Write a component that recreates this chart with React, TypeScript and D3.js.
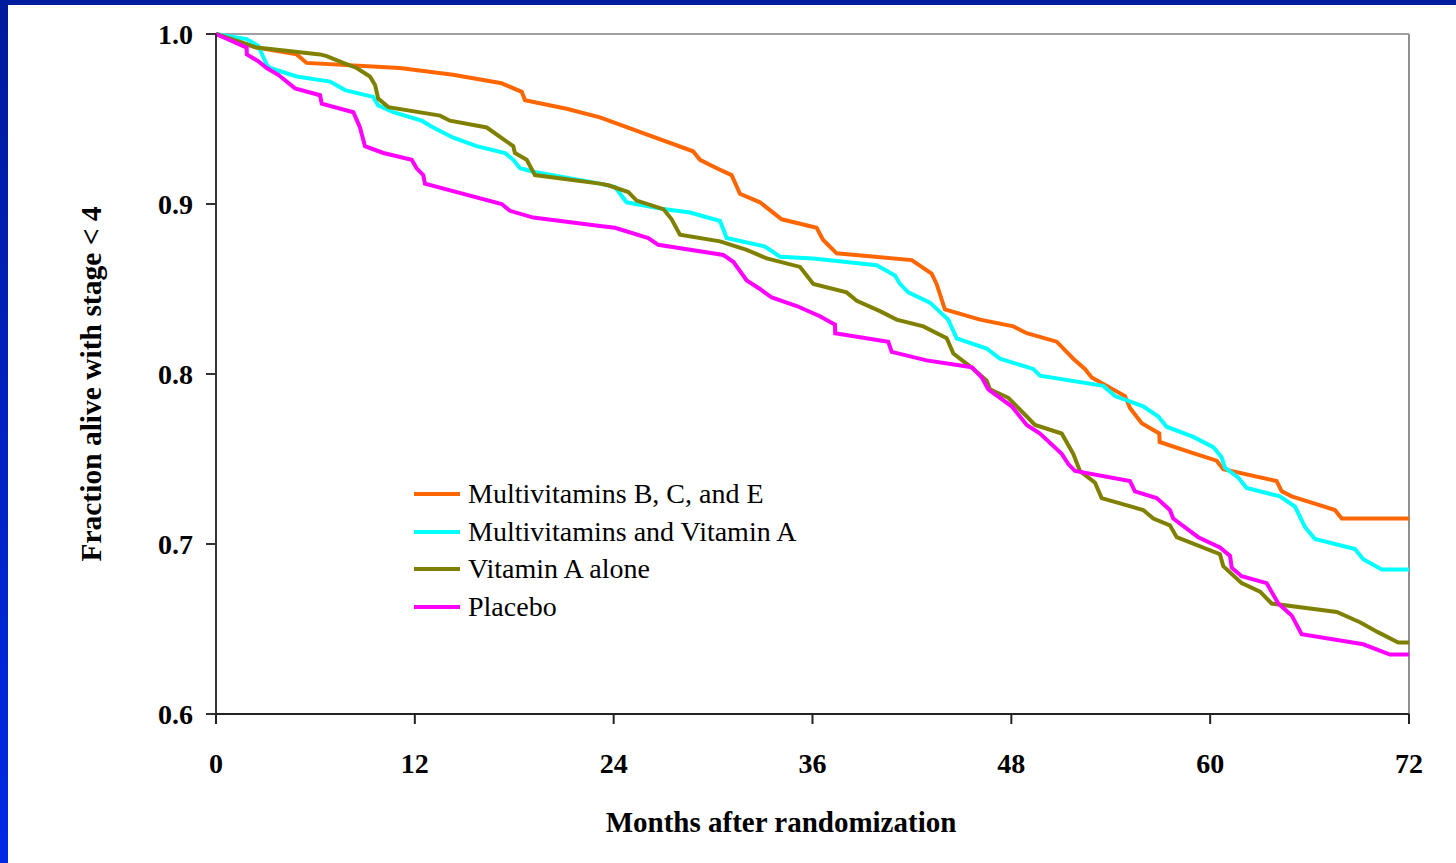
import React from "react";
import * as d3 from "d3";

// Kaplan–Meier style curves: months after randomization vs fraction alive with stage < 4
const orangeMonths = [0, 2.46, 4.87, 5.47, 11.1, 14.3, 17.24, 18.45, 18.65, 21.16, 23.17, 28.79, 29.21, 30.22, 31.12, 31.62, 32.83, 34.14, 36.25, 36.63, 37.46, 41.99, 43.19, 43.49, 43.99, 46.11, 48.12, 48.93, 50.74, 51.74, 52.44, 52.85, 54.86, 55.16, 55.87, 56.93, 56.95, 58.78, 60.39, 60.79, 64.01, 64.32, 64.92, 67.53, 67.94, 72];
const orangeValues = [1.0, 0.992, 0.988, 0.983, 0.98, 0.976, 0.971, 0.966, 0.961, 0.956, 0.951, 0.931, 0.926, 0.921, 0.917, 0.906, 0.901, 0.891, 0.886, 0.879, 0.871, 0.867, 0.859, 0.853, 0.838, 0.832, 0.828, 0.824, 0.819, 0.809, 0.803, 0.798, 0.787, 0.78, 0.771, 0.765, 0.76, 0.754, 0.749, 0.744, 0.737, 0.731, 0.728, 0.72, 0.715, 0.715];

const cyanMonths = [0, 1.85, 2.55, 3.06, 3.26, 4.87, 6.88, 7.79, 9.49, 9.79, 10.7, 12.41, 13.11, 14.32, 15.73, 17.44, 17.94, 18.35, 19.15, 23.17, 24.08, 24.78, 27.0, 28.61, 30.42, 30.82, 33.13, 34.04, 36.05, 39.87, 40.98, 41.28, 41.78, 43.09, 44.19, 44.7, 46.51, 47.31, 49.32, 49.73, 53.55, 54.26, 55.96, 56.87, 57.37, 58.98, 60.19, 60.69, 60.89, 61.7, 62.2, 64.21, 65.12, 65.72, 66.32, 68.74, 69.24, 70.35, 72];
const cyanValues = [1.0, 0.997, 0.993, 0.982, 0.98, 0.975, 0.972, 0.967, 0.963, 0.958, 0.954, 0.949, 0.945, 0.939, 0.934, 0.93, 0.926, 0.921, 0.919, 0.912, 0.91, 0.901, 0.897, 0.895, 0.89, 0.88, 0.875, 0.869, 0.868, 0.864, 0.858, 0.853, 0.848, 0.842, 0.832, 0.821, 0.815, 0.809, 0.803, 0.799, 0.793, 0.787, 0.781, 0.775, 0.769, 0.763, 0.757, 0.751, 0.745, 0.739, 0.733, 0.728, 0.722, 0.71, 0.703, 0.697, 0.691, 0.685, 0.685];

const oliveMonths = [0, 2.46, 6.28, 6.68, 7.68, 8.49, 9.29, 9.6, 9.79, 10.4, 13.52, 14.12, 16.34, 17.94, 18.04, 18.75, 19.25, 23.17, 23.68, 24.88, 25.39, 27.0, 27.5, 28.0, 30.42, 32.03, 33.24, 35.25, 36.05, 38.06, 38.67, 40.07, 41.08, 42.69, 44.1, 44.5, 45.7, 46.51, 46.71, 47.82, 49.43, 51.04, 51.74, 52.14, 53.05, 53.45, 55.96, 56.57, 57.57, 57.98, 60.59, 60.79, 61.9, 63.01, 63.71, 67.64, 69.04, 70.15, 71.35, 72];
const oliveValues = [1.0, 0.992, 0.988, 0.987, 0.983, 0.98, 0.975, 0.97, 0.962, 0.957, 0.952, 0.949, 0.945, 0.934, 0.93, 0.926, 0.917, 0.912, 0.911, 0.907, 0.902, 0.897, 0.891, 0.882, 0.878, 0.873, 0.868, 0.863, 0.853, 0.848, 0.843, 0.837, 0.832, 0.828, 0.821, 0.812, 0.803, 0.796, 0.791, 0.786, 0.77, 0.765, 0.753, 0.743, 0.736, 0.727, 0.72, 0.715, 0.711, 0.704, 0.694, 0.687, 0.677, 0.672, 0.665, 0.66, 0.654, 0.648, 0.642, 0.642];

const magentaMonths = [0, 1.85, 1.86, 2.55, 3.06, 3.76, 4.77, 6.28, 6.38, 8.29, 8.69, 8.99, 10.1, 11.81, 12.11, 12.51, 12.61, 17.24, 17.74, 19.15, 23.17, 24.08, 26.09, 26.69, 30.62, 31.22, 32.03, 32.83, 33.54, 35.05, 36.45, 37.36, 37.37, 40.57, 40.78, 42.89, 45.61, 46.21, 46.61, 48.02, 48.93, 49.73, 51.04, 51.44, 51.84, 55.16, 55.46, 56.77, 57.57, 57.77, 59.28, 60.59, 61.2, 61.3, 61.9, 63.41, 64.11, 64.92, 65.52, 69.24, 70.85, 72];
const magentaValues = [1.0, 0.992, 0.988, 0.984, 0.98, 0.976, 0.968, 0.964, 0.959, 0.954, 0.945, 0.934, 0.93, 0.926, 0.921, 0.917, 0.912, 0.9, 0.896, 0.892, 0.887, 0.886, 0.88, 0.876, 0.87, 0.866, 0.855, 0.85, 0.845, 0.84, 0.834, 0.829, 0.824, 0.819, 0.813, 0.808, 0.804, 0.798, 0.791, 0.781, 0.77, 0.765, 0.753, 0.747, 0.743, 0.737, 0.731, 0.727, 0.72, 0.715, 0.704, 0.698, 0.693, 0.686, 0.681, 0.677, 0.665, 0.658, 0.647, 0.641, 0.635, 0.635];

const seriesNames = ["Multivitamins B, C, and E", "Multivitamins and Vitamin A", "Vitamin A alone", "Placebo"];
const seriesColors = ["#FF6600", "#00FFFF", "#808000", "#FF00FF"];

const xTicks = [0, 12, 24, 36, 48, 60, 72];
const yTicks = [0.6, 0.7, 0.8, 0.9, 1.0];

const W = 1456;
const H = 863;
const plot = { left: 216, right: 1409, top: 34, bottom: 714 };
const serif = "'Liberation Serif', 'Times New Roman', serif";

export default function App() {
  const x = d3.scaleLinear().domain([0, 72]).range([plot.left, plot.right]);
  const y = d3.scaleLinear().domain([0.6, 1.0]).range([plot.bottom, plot.top]);
  const line = d3
    .line<[number, number]>()
    .x((d) => x(d[0]))
    .y((d) => y(d[1]));

  const series = [
    d3.zip(orangeMonths, orangeValues),
    d3.zip(cyanMonths, cyanValues),
    d3.zip(oliveMonths, oliveValues),
    d3.zip(magentaMonths, magentaValues),
  ] as [number, number][][];

  const legendX = 414;
  const legendY = [494, 532, 569, 607];

  return (
    <svg
      width={W}
      height={H}
      style={{ position: "absolute", left: 0, top: 0, display: "block" }}
      fontFamily={serif}
    >
      <defs>
        <linearGradient id="sideBar" x1="0" y1="0" x2="0" y2="1">
          <stop offset="0" stopColor="#001a9c" />
          <stop offset="1" stopColor="#0029e6" />
        </linearGradient>
      </defs>
      <rect x={0} y={0} width={W} height={H} fill="#ffffff" />
      <rect x={0} y={0} width={W} height={5} fill="#001c9e" />
      <rect x={0} y={0} width={8} height={H} fill="url(#sideBar)" />

      {/* plot frame: top and right gray edges */}
      <line x1={plot.left} x2={plot.right} y1={plot.top} y2={plot.top} stroke="#a0a0a0" strokeWidth={2} />
      <line x1={plot.right} x2={plot.right} y1={plot.top} y2={plot.bottom} stroke="#909090" strokeWidth={2} />

      {/* curves */}
      {series.map((s, i) => (
        <path
          key={seriesNames[i]}
          d={line(s) ?? ""}
          fill="none"
          stroke={seriesColors[i]}
          strokeWidth={4}
          strokeLinejoin="miter"
        />
      ))}

      {/* y axis */}
      <line x1={plot.left} x2={plot.left} y1={plot.top} y2={plot.bottom} stroke="#333333" strokeWidth={2} />
      {yTicks.map((t) => (
        <g key={t}>
          <line x1={plot.left - 10} x2={plot.left} y1={y(t)} y2={y(t)} stroke="#333333" strokeWidth={2} />
          <text
            x={193}
            y={y(t)}
            dy="0.34em"
            textAnchor="end"
            fontSize={28}
            fontWeight="bold"
            fill="#000"
          >
            {t.toFixed(1)}
          </text>
        </g>
      ))}

      {/* x axis */}
      <line x1={plot.left} x2={plot.right} y1={plot.bottom} y2={plot.bottom} stroke="#222222" strokeWidth={2} />
      {xTicks.map((t) => (
        <g key={t}>
          <line x1={x(t)} x2={x(t)} y1={plot.bottom} y2={plot.bottom + 10} stroke="#222222" strokeWidth={2} />
          <text x={x(t)} y={773} textAnchor="middle" fontSize={28} fontWeight="bold" fill="#000">
            {t}
          </text>
        </g>
      ))}

      <text x={781} y={832} textAnchor="middle" fontSize={29} fontWeight="bold" fill="#000">
        Months after randomization
      </text>
      <text
        transform={`translate(101, 384) rotate(-90)`}
        textAnchor="middle"
        fontSize={29.5}
        fontWeight="bold"
        fill="#000"
      >
        Fraction alive with stage &lt; 4
      </text>

      {/* legend */}
      {seriesNames.map((name, i) => (
        <g key={name}>
          <line
            x1={legendX}
            x2={legendX + 46}
            y1={legendY[i]}
            y2={legendY[i]}
            stroke={seriesColors[i]}
            strokeWidth={4}
          />
          <text x={468} y={legendY[i]} dy="0.33em" fontSize={28} fill="#000">
            {name}
          </text>
        </g>
      ))}
    </svg>
  );
}
